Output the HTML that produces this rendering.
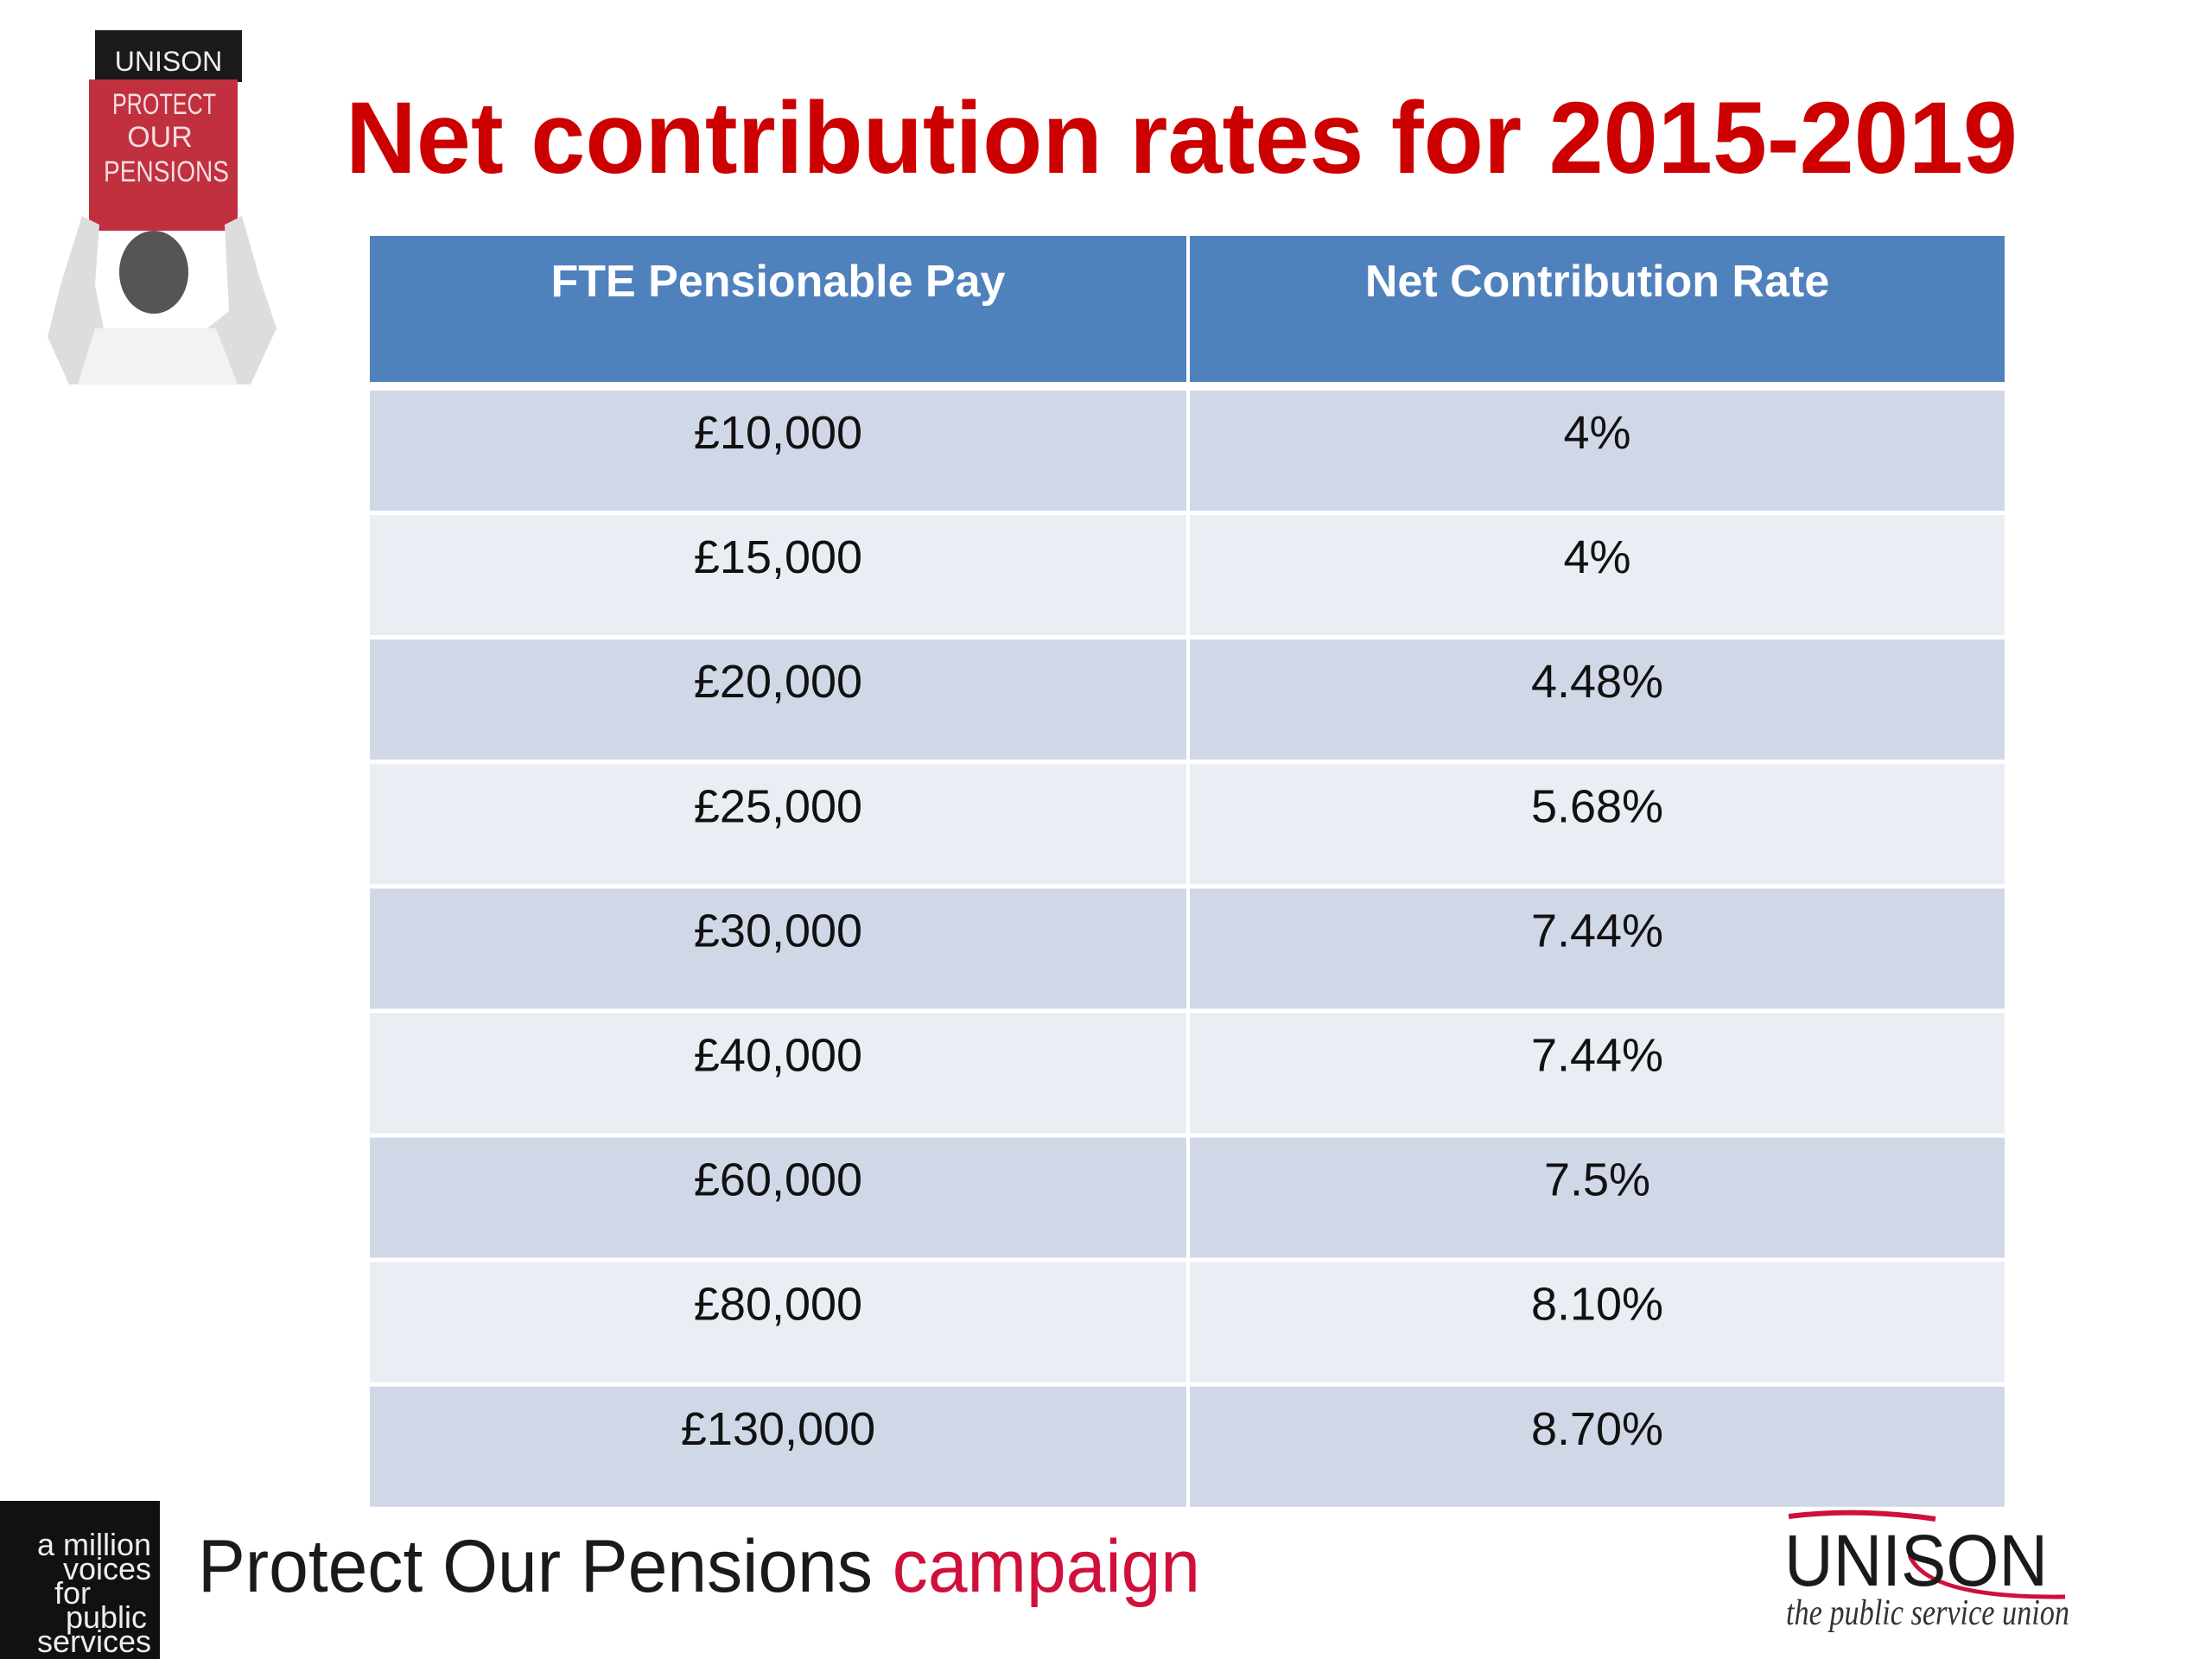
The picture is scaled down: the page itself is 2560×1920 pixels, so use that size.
<!DOCTYPE html>
<html><head><meta charset="utf-8"><style>
html,body{margin:0;padding:0;background:#fff;width:2560px;height:1920px;overflow:hidden}
svg{display:block}
</style></head><body>
<svg id="s" width="2560" height="1920" viewBox="0 0 2560 1920" xmlns="http://www.w3.org/2000/svg">
  <g>
    <rect x="110" y="35" width="170" height="60" fill="#1a1a1a"/>
    <text x="195" y="82" font-family="Liberation Sans, sans-serif" font-size="32" fill="#eee" text-anchor="middle">UNISON</text>
    <rect x="103" y="92" width="172" height="175" fill="#c0303f"/>
    <text x="130" y="132" textLength="120" lengthAdjust="spacingAndGlyphs" font-family="Liberation Sans, sans-serif" font-size="34" fill="#f4dde0">PROTECT</text>
    <text x="185" y="170" font-family="Liberation Sans, sans-serif" font-size="34" fill="#f4dde0" text-anchor="middle">OUR</text>
    <text x="120" y="210" textLength="145" lengthAdjust="spacingAndGlyphs" font-family="Liberation Sans, sans-serif" font-size="34" fill="#f4dde0">PENSIONS</text>
    <ellipse cx="178" cy="315" rx="40" ry="48" fill="#555"/>
    <path d="M95 250 L70 330 L55 390 L80 445 L290 445 L320 380 L300 320 L280 250 L260 260 L265 360 L240 380 L120 380 L110 330 L115 260Z" fill="#ddd"/>
    <path d="M110 380 L250 380 L275 445 L90 445Z" fill="#f2f2f2"/>
  </g>
  <text x="400" y="200" textLength="1935" lengthAdjust="spacingAndGlyphs" font-family="Liberation Sans, sans-serif" font-weight="bold" font-size="118" fill="#cc0000">Net contribution rates for 2015-2019</text>
  <g id="table"></g>
  <rect x="0" y="1737" width="185" height="183" fill="#111"/>
  <g font-family="Liberation Sans Narrow, Liberation Sans, sans-serif" font-size="36" fill="#eee" text-anchor="end">
    <text x="175" y="1800">a million</text>
    <text x="175" y="1828">voices</text>
    <text x="105" y="1856">for</text>
    <text x="170" y="1884">public</text>
    <text x="175" y="1912">services</text>
  </g>
  <text x="229" y="1842" textLength="1160" lengthAdjust="spacingAndGlyphs" font-family="Liberation Sans, sans-serif" font-size="86" fill="#1a1a1a">Protect Our Pensions <tspan fill="#d0103a">campaign</tspan></text>
  <g>
    <path d="M2070 1755 Q2150 1745 2240 1758" stroke="#d0103a" stroke-width="6" fill="none"/>
    <path d="M2210 1800 Q2230 1850 2390 1848" stroke="#d0103a" stroke-width="5" fill="none"/>
    <text x="2065" y="1835" textLength="305" lengthAdjust="spacingAndGlyphs" font-family="Liberation Sans, sans-serif" font-size="84" fill="#1a1a1a">UNISON</text>
    <text x="2067" y="1880" textLength="328" lengthAdjust="spacingAndGlyphs" font-family="Liberation Serif, serif" font-style="italic" font-size="42" fill="#333">the public service union</text>
  </g>
</svg>
<script>
const headers = ["FTE Pensionable Pay", "Net Contribution Rate"];
const payBands = ["£10,000","£15,000","£20,000","£25,000","£30,000","£40,000","£60,000","£80,000","£130,000"];
const rates = ["4%","4%","4.48%","5.68%","7.44%","7.44%","7.5%","8.10%","8.70%"];

const NS = "http://www.w3.org/2000/svg";
const g = document.getElementById('table');
const X0 = 428, XM = 1373, X1 = 2320, HT = 273, HB = 442, R0 = 452, PITCH = 144.1, RH = 139;
function mk(tag, attrs){const e=document.createElementNS(NS,tag);for(const k in attrs)e.setAttribute(k,attrs[k]);g.appendChild(e);return e;}
const cols = [[X0, XM], [XM + 4, X1]];
cols.forEach((c, j) => {
  const r = mk('rect', {x:c[0], y:HT, width:c[1]-c[0], height:HB-HT, fill:'#4f81bd'});
  
  
  const t = mk('text', {x:(c[0]+c[1])/2, y:343, 'text-anchor':'middle', 'font-family':'Liberation Sans, sans-serif', 'font-weight':'bold', 'font-size':52, fill:'#fff'});
  t.textContent = headers[j];
  
  
});
payBands.forEach((p, i) => {
  const y = R0 + i * PITCH;
  const fill = i % 2 === 0 ? '#d0d8e8' : '#e9edf4';
  [p, rates[i]].forEach((v, j) => {
    const c = cols[j];
    const r = mk('rect', {x:c[0], y:y, width:c[1]-c[0], height:RH, fill:fill});
    
    
    const t = mk('text', {x:(c[0]+c[1])/2, y:y+67, 'text-anchor':'middle', 'font-family':'Liberation Sans, sans-serif', 'font-size':54, fill:'#111'});
    t.textContent = v;
    
    
  });
});
</script>
</body></html>
